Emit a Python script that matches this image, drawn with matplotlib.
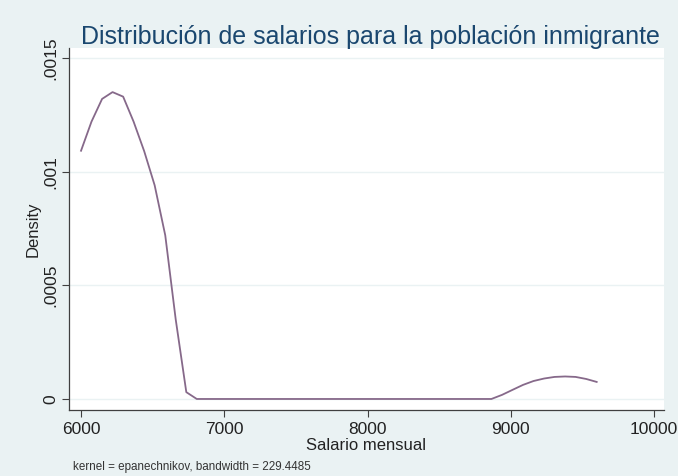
import matplotlib
matplotlib.use("Agg")
import matplotlib.pyplot as plt

plt.rcParams['font.family'] = ['Liberation Sans', 'DejaVu Sans']

# Kernel density estimate evaluated on a 50-point grid (6000 .. 9600)
salario = [6000, 6073, 6147, 6220, 6294, 6367, 6441, 6514, 6588, 6661,
           6735, 6808, 6882, 6955, 7029, 7102, 7176, 7249, 7322, 7396,
           7469, 7543, 7616, 7690, 7763, 7837, 7910, 7984, 8057, 8131,
           8204, 8278, 8351, 8424, 8498, 8571, 8645, 8718, 8792, 8865,
           8939, 9012, 9086, 9159, 9233, 9306, 9380, 9453, 9527, 9600]
densidad = [0.001092, 0.00122, 0.00132, 0.00135, 0.00133, 0.00122, 0.00109,
            0.00094, 0.00072, 0.00035, 0.00003] + [0.0] * 29 + \
           [0.000018, 0.00004, 0.000062, 0.000079, 0.00009, 0.000097,
            0.000099, 0.000097, 0.000088, 0.000075]

x_ticks = [6000, 7000, 8000, 9000, 10000]
x_ticklabels = ["6000", "7000", "8000", "9000", "10000"]
y_ticks = [0, 0.0005, 0.001, 0.0015]
y_ticklabels = ["0", ".0005", ".001", ".0015"]

title = "Distribución de salarios para la población inmigrante"
note = "kernel = epanechnikov, bandwidth = 229.4485"

bg = "#EAF2F3"
navy = "#1a476f"
line_color = "#86698a"

W, H = 678, 476
fig = plt.figure(figsize=(W / 100, H / 100), dpi=100, facecolor=bg)

# axes box in pixel coordinates
left, right, top, bottom = 69, 664, 48, 410
ax = fig.add_axes([left / W, 1 - bottom / H, (right - left) / W, (bottom - top) / H])
ax.set_facecolor("white")

ax.plot(salario, densidad, color=line_color, lw=1.3, solid_joinstyle="round")

ax.set_xlim(5916, 10070)
ax.set_ylim(-0.0000485, 0.001544)

ax.set_xticks(x_ticks)
ax.set_xticklabels(x_ticklabels)
ax.set_yticks(y_ticks)
ax.set_yticklabels(y_ticklabels, rotation=90, va="center")

ax.grid(axis="y", color=bg, lw=1.0)
ax.set_axisbelow(True)

for side in ("top", "right"):
    ax.spines[side].set_visible(False)
for side in ("left", "bottom"):
    ax.spines[side].set_color("#404040")
    ax.spines[side].set_linewidth(0.9)

ax.tick_params(axis="both", length=5, width=0.8, color="#404040",
               labelsize=12.5, labelcolor="#222222")
ax.tick_params(axis="y", pad=3)
ax.tick_params(axis="x", pad=4)

ax.set_xlabel("Salario mensual", fontsize=12, color="#222222", labelpad=0)

fig.text(33 / W, 1 - 229 / H, "Density", rotation=90, ha="center",
         va="center", fontsize=12, color="#222222")
fig.text(370 / W, 1 - 37 / H, title, ha="center", va="center",
         fontsize=18, color=navy)
fig.text(73 / W, 1 - 467 / H, note, ha="left", va="center",
         fontsize=8.4, color="#333333")

fig.savefig("out.png", dpi=100, facecolor=bg)
